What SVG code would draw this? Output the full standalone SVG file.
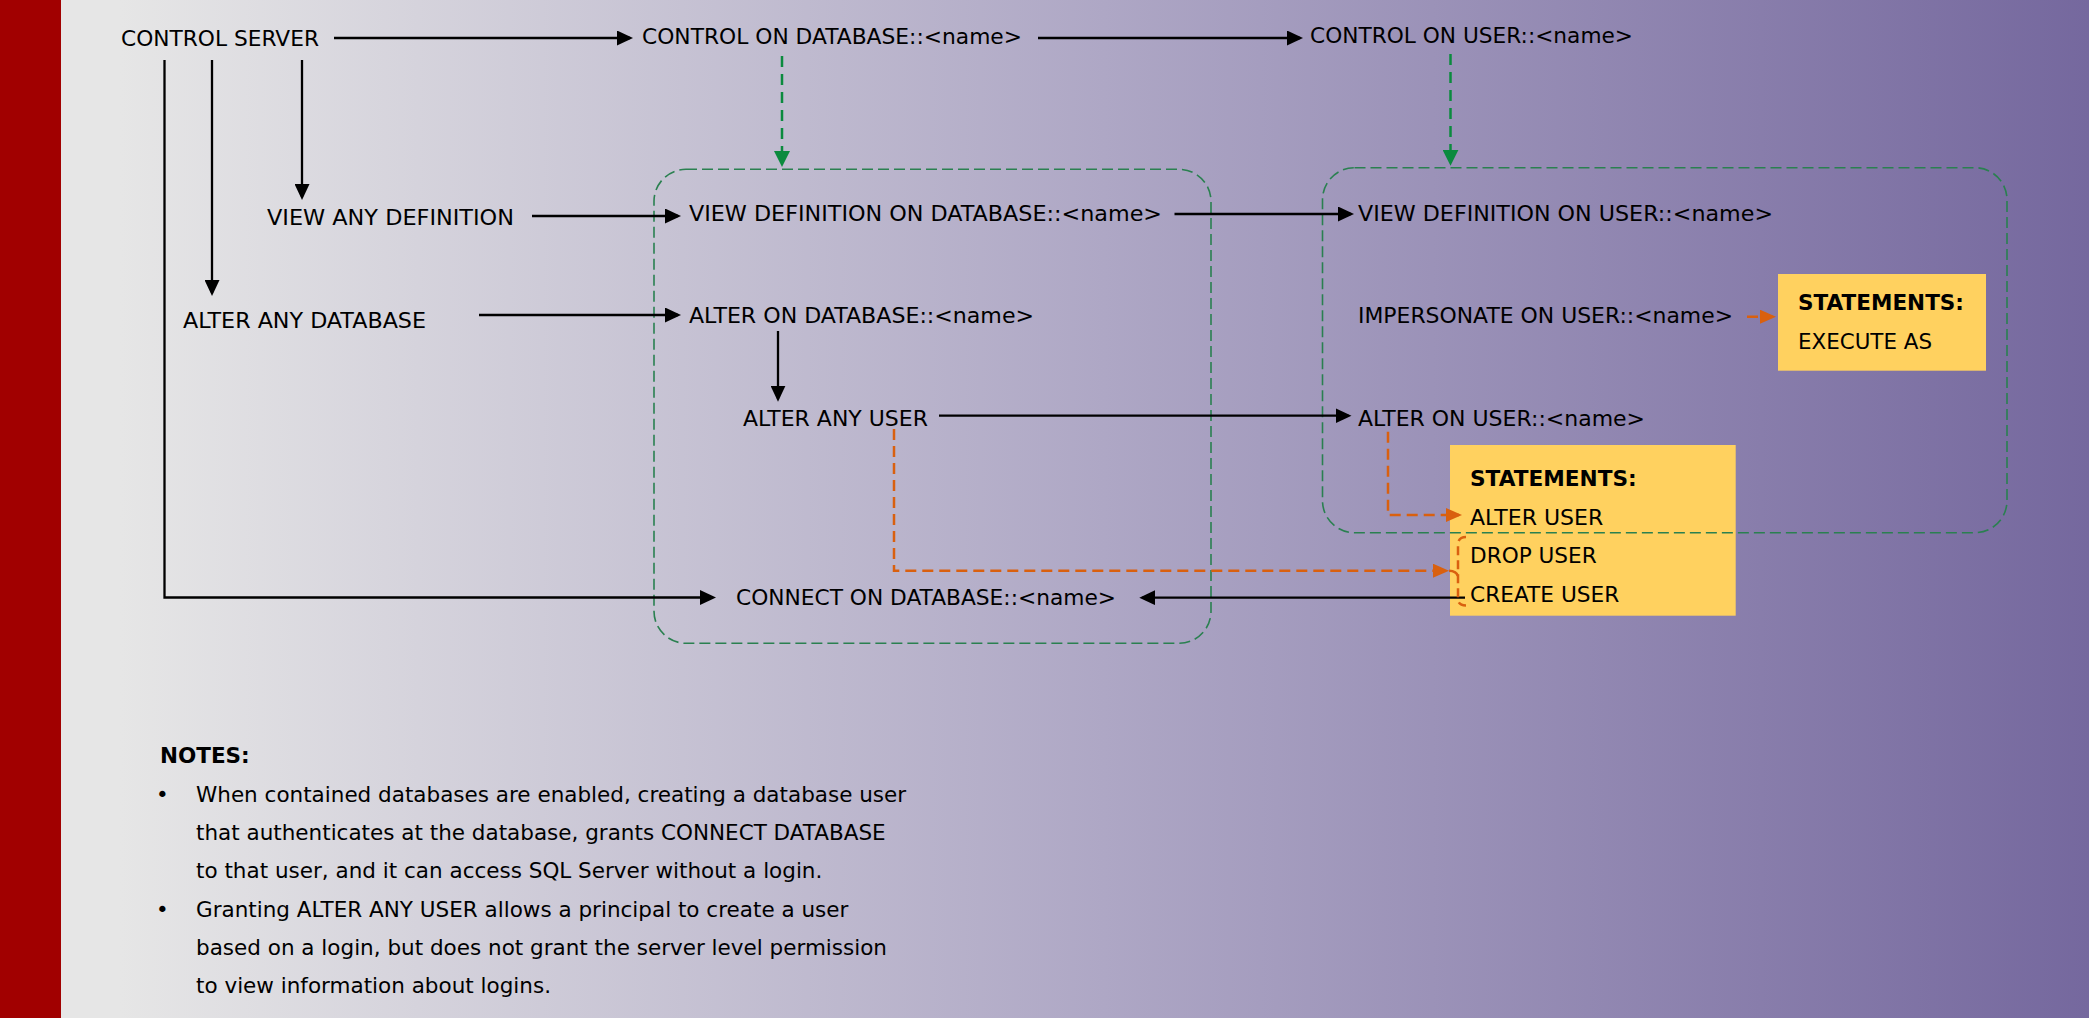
<svg xmlns="http://www.w3.org/2000/svg" width="2089" height="1018" viewBox="0 0 2089 1018">
  <defs>
    <linearGradient id="bg" gradientUnits="userSpaceOnUse" x1="120" y1="0" x2="2089" y2="0">
      <stop offset="0" stop-color="#e6e6e6"/>
      <stop offset="0.5" stop-color="#aea7c5"/>
      <stop offset="1" stop-color="#75689e"/>
    </linearGradient>
    <marker id="ab" markerUnits="userSpaceOnUse" markerWidth="16" markerHeight="15" refX="13" refY="7.5" orient="auto">
      <path d="M0,0 L16,7.5 L0,15 z" fill="#000"/>
    </marker>
    <marker id="ag" markerUnits="userSpaceOnUse" markerWidth="16" markerHeight="16" refX="13" refY="8" orient="auto">
      <path d="M0,0 L16,8 L0,16 z" fill="#0b8a3e"/>
    </marker>
    <marker id="ao" markerUnits="userSpaceOnUse" markerWidth="16" markerHeight="14" refX="13" refY="7" orient="auto">
      <path d="M0,0 L16,7 L0,14 z" fill="#d9600f"/>
    </marker>
  </defs>
  <style>
    text { font-family: "DejaVu Sans", Verdana, "Liberation Sans", sans-serif; font-size: 21.5px; fill: #000; }
    .b { font-weight: bold; }
    .note { font-size: 21.5px; }
    .blk { fill: none; stroke: #000; stroke-width: 2.3; marker-end: url(#ab); }
    .grn { fill: none; stroke: #0b8a3e; stroke-width: 2.5; stroke-dasharray: 11 7; marker-end: url(#ag); }
    .org { fill: none; stroke: #d9600f; stroke-width: 2.5; stroke-dasharray: 11 6; }
    .orga { marker-end: url(#ao); }
    .scope { fill: none; stroke: #2a8050; stroke-width: 1.6; stroke-dasharray: 11 5; }
    .stmt { fill: #ffd15f; }
  </style>

  <rect x="0" y="0" width="2089" height="1018" fill="url(#bg)"/>
  <rect x="0" y="0" width="61" height="1018" fill="#a10000"/>

  <g id="statements-impersonate">
    <rect class="stmt" x="1778" y="274" width="208" height="96.7"/>
    <text class="b" x="1798" y="310" textLength="166" lengthAdjust="spacingAndGlyphs">STATEMENTS:</text>
    <text x="1798" y="349" textLength="134" lengthAdjust="spacingAndGlyphs">EXECUTE AS</text>
  </g>
  <g id="statements-user">
    <rect class="stmt" x="1450" y="445" width="285.7" height="170.7"/>
    <text class="b" x="1470" y="486" textLength="166.7" lengthAdjust="spacingAndGlyphs">STATEMENTS:</text>
    <text x="1470" y="525" textLength="133.3" lengthAdjust="spacingAndGlyphs">ALTER USER</text>
    <text x="1470" y="562.7" textLength="126.7" lengthAdjust="spacingAndGlyphs">DROP USER</text>
    <text x="1470" y="601.7" textLength="149.3" lengthAdjust="spacingAndGlyphs">CREATE USER</text>
  </g>

  <g id="database-scope">
    <rect class="scope" x="654" y="169.3" width="557" height="474" rx="32" ry="32"/>
  </g>
  <g id="user-scope">
    <rect class="scope" x="1322.5" y="167.7" width="684.5" height="365" rx="32" ry="32"/>
  </g>

  <g id="connectors">
    <path class="blk" d="M334 38 H630"/>
    <path class="blk" d="M1038 38 H1300"/>
    <path class="blk" d="M302 60 V197"/>
    <path class="blk" d="M212 60 V293"/>
    <path class="blk" d="M164.5 60 V597.5 H713"/>
    <path class="blk" d="M532 216 H678"/>
    <path class="blk" d="M479 315 H678"/>
    <path class="blk" d="M1174.5 214 H1351"/>
    <path class="blk" d="M778 331 V398.7"/>
    <path class="blk" d="M939 415.7 H1348.5"/>
    <path class="blk" d="M1465 597.7 H1142.3"/>
    <path class="grn" d="M782 56 V164"/>
    <path class="grn" d="M1450.5 54 V162.7"/>
    <path class="org orga" d="M1747 316.7 H1773"/>
    <path class="org orga" d="M1388 431.7 V515 H1459"/>
    <path class="org orga" d="M894 429 V570.7 H1446"/>
    <path class="org" d="M1449 570.7 Q1458 571 1458 578"/>
    <path class="org" style="stroke-dasharray: 9 5" d="M1466 537 Q1458 537 1458 545 V599 Q1458 605.5 1466 605.5"/>
  </g>

  <g id="control-server"><text x="121" y="46" textLength="198" lengthAdjust="spacingAndGlyphs">CONTROL SERVER</text></g>
  <g id="control-db"><text x="642" y="44.3" textLength="380" lengthAdjust="spacingAndGlyphs">CONTROL ON DATABASE::&lt;name&gt;</text></g>
  <g id="control-user"><text x="1310" y="43.3" textLength="323" lengthAdjust="spacingAndGlyphs">CONTROL ON USER::&lt;name&gt;</text></g>
  <g id="view-any-definition"><text x="267" y="225" textLength="247" lengthAdjust="spacingAndGlyphs">VIEW ANY DEFINITION</text></g>
  <g id="view-def-db"><text x="689" y="221" textLength="473" lengthAdjust="spacingAndGlyphs">VIEW DEFINITION ON DATABASE::&lt;name&gt;</text></g>
  <g id="view-def-user"><text x="1358" y="221" textLength="415" lengthAdjust="spacingAndGlyphs">VIEW DEFINITION ON USER::&lt;name&gt;</text></g>
  <g id="alter-any-database"><text x="183" y="328" textLength="243" lengthAdjust="spacingAndGlyphs">ALTER ANY DATABASE</text></g>
  <g id="alter-db"><text x="689" y="322.7" textLength="345" lengthAdjust="spacingAndGlyphs">ALTER ON DATABASE::&lt;name&gt;</text></g>
  <g id="impersonate-user"><text x="1358" y="323" textLength="375" lengthAdjust="spacingAndGlyphs">IMPERSONATE ON USER::&lt;name&gt;</text></g>
  <g id="alter-any-user"><text x="743" y="425.7" textLength="185" lengthAdjust="spacingAndGlyphs">ALTER ANY USER</text></g>
  <g id="alter-user"><text x="1358" y="426" textLength="287" lengthAdjust="spacingAndGlyphs">ALTER ON USER::&lt;name&gt;</text></g>
  <g id="connect-db"><text x="736" y="605" textLength="380" lengthAdjust="spacingAndGlyphs">CONNECT ON DATABASE::&lt;name&gt;</text></g>

  <g id="notes">
    <text class="b note" x="160" y="763.3">NOTES:</text>
    <text class="note" x="156" y="801.7">•</text>
    <text class="note" x="196" y="801.7">When contained databases are enabled, creating a database user</text>
    <text class="note" x="196" y="840">that authenticates at the database, grants CONNECT DATABASE</text>
    <text class="note" x="196" y="877.7">to that user, and it can access SQL Server without a login.</text>
    <text class="note" x="156" y="916.7">•</text>
    <text class="note" x="196" y="916.7">Granting ALTER ANY USER allows a principal to create a user</text>
    <text class="note" x="196" y="955">based on a login, but does not grant the server level permission</text>
    <text class="note" x="196" y="993.3">to view information about logins.</text>
  </g>
</svg>
